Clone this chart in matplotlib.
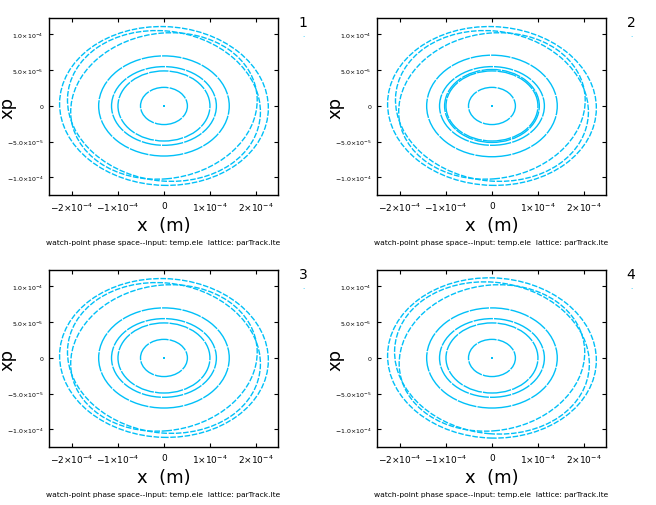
import numpy as np
import matplotlib
matplotlib.use('Agg')
import matplotlib.pyplot as plt
from matplotlib.patches import Ellipse

# ring half-widths in x and xp (units of 1e-4), one list per panel
panel_ids = ['1', '2', '3', '4']
ring_x = [
    [0.51, 1.00, 1.14, 1.42, 2.03, 2.10, 2.27],
    [0.51, 1.00, 1.03, 1.14, 1.42, 2.03, 2.10, 2.27],
    [0.51, 1.00, 1.14, 1.42, 2.03, 2.10, 2.27],
    [0.51, 1.00, 1.14, 1.42, 2.02, 2.12, 2.27],
]
ring_y = [
    [0.26, 0.49, 0.55, 0.70, 1.02, 1.05, 1.11],
    [0.26, 0.49, 0.51, 0.55, 0.71, 1.02, 1.05, 1.11],
    [0.26, 0.49, 0.55, 0.70, 1.02, 1.05, 1.11],
    [0.26, 0.49, 0.55, 0.70, 1.02, 1.06, 1.12],
]
ring_tilt = [
    [0, 0, 0, 0, 3, -3, -1],
    [0, 0, 0, 0, 0, 3, -3, -1],
    [0, 0, 0, 0, 3, -3, -1],
    [0, 0, 0, 0, 3, -3, -1],
]

xticks = [-2e-4, -1e-4, 0, 1e-4, 2e-4]
xticklabels = [r'$-2{\times}10^{-4}$', r'$-1{\times}10^{-4}$', '0',
               r'$1{\times}10^{-4}$', r'$2{\times}10^{-4}$']
yticks = [-1e-4, -5e-5, 0, 5e-5, 1e-4]
yticklabels = [r'$-1.0{\times}10^{-4}$', r'$-5.0{\times}10^{-5}$', '0',
               r'$5.0{\times}10^{-5}$', r'$1.0{\times}10^{-4}$']

subtitle = 'watch-point phase space--input: temp.ele  lattice: parTrack.lte'
cyan = '#00c0f8'

fig = plt.figure(figsize=(6.56, 5.06), dpi=100)
W, H = 656, 506
origins = [(49, 19), (377, 19), (49, 271), (377, 271)]
aw, ah = 229, 177

for k in range(4):
    x0, y0 = origins[k]
    ax = fig.add_axes([x0 / W, 1 - (y0 + ah) / H, aw / W, ah / H])
    for rx, ry, t in zip(ring_x[k], ring_y[k], ring_tilt[k]):
        ls = (0, (14, 0.8)) if rx < 1.5 else (0, (4, 1.2))
        e = Ellipse((0, 0), 2 * rx * 1e-4, 2 * ry * 1e-4, angle=t,
                    fill=False, edgecolor=cyan, lw=1.0, linestyle=ls)
        ax.add_patch(e)
    ax.plot([0], [0], 's', color=cyan, ms=1.8, mew=0)
    ax.set_xlim(-2.5e-4, 2.48e-4)
    ax.set_ylim(-1.245e-4, 1.23e-4)
    ax.set_xticks(xticks)
    ax.set_xticklabels(xticklabels, fontsize=6.5)
    ax.set_yticks(yticks)
    ax.set_yticklabels(yticklabels, fontsize=4.5)
    ax.tick_params(direction='in', length=3, width=0.8, top=True, right=True,
                   pad=4)
    for s in ax.spines.values():
        s.set_linewidth(1.0)
    ax.set_xlabel('x  (m)', fontsize=13, labelpad=2)
    ax.set_ylabel('xp', fontsize=13)
    ax.yaxis.set_label_coords(-0.14, 0.5)
    ax.text(0.5, -0.265, subtitle, transform=ax.transAxes, ha='center',
            va='center', fontsize=5.4)
    fig.text((x0 + 254) / W, 1 - (y0 + 4) / H, panel_ids[k], fontsize=10,
             ha='center', va='center')
    fig.text((x0 + 254) / W, 1 - (y0 + 16) / H, '.', color=cyan, fontsize=5,
             ha='center', va='center')

plt.savefig('out.png', dpi=100)
